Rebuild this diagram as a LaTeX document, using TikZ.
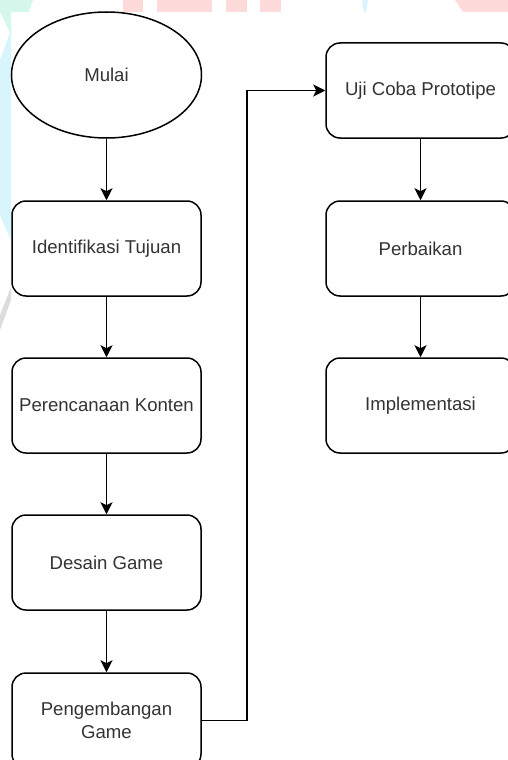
\documentclass[tikz,border=0pt]{standalone}
\usepackage{fontspec}
\setmainfont{Liberation Sans}
\usepackage{tikz}
\usetikzlibrary{shapes.geometric,arrows.meta}
\definecolor{teks}{HTML}{333333}
\definecolor{merahmuda}{HTML}{FFDADA}
\definecolor{hijaumuda}{HTML}{D5F7EC}
\definecolor{birumuda}{HTML}{D8F4FC}
\definecolor{abumuda}{HTML}{DCDCDC}
\tikzset{
	kotak/.style={draw,rounded corners=14pt,line width=1.5pt,minimum width=189pt,minimum height=95pt,inner sep=0pt,text=teks,align=center,font=\fontsize{18.6}{23}\selectfont},
	mulaibox/.style={draw,ellipse,line width=1.5pt,minimum width=190pt,minimum height=126pt,inner sep=0pt,text=teks,font=\fontsize{18.6}{23}\selectfont},
	panah/.style={line width=1.5pt,-{Stealth[length=12pt,width=12pt,inset=3pt]}}
}
\begin{document}
\begin{tikzpicture}[x=1pt,y=-1pt]
	\clip (0,0) rectangle (508,760);
	% potongan latar
	\fill [merahmuda] (123,0) rectangle (143,12);
	\fill [merahmuda] (157,0) rectangle (212,12);
	\fill [merahmuda] (226,0) rectangle (247,12);
	\fill [merahmuda] (260,0) rectangle (281,12);
	\fill [merahmuda] (455,0) -- (508,0) -- (508,12) -- (463,12) -- cycle;
	\fill [birumuda] (362,0) -- (368,0) -- (366,12) -- (364,12) -- cycle;
	\fill [hijaumuda] (0,0) -- (33,0) -- (29,12) -- (11,12) -- (11,35) -- (0,12) -- cycle;
	\fill [birumuda] (11,30) -- (11,240) -- (0,215) -- (0,60) -- cycle;
	\fill [abumuda] (11,287) -- (11,300) -- (0,330) -- (0,315) -- cycle;

	\node [mulaibox] (mulai) at (106.5,75) {Mulai};
	\node [kotak] (tujuan) at (106.5,248.5) {Identifikasi Tujuan};
	\node [kotak] (konten) at (106.5,405.5) {Perencanaan Konten};
	\node [kotak] (desain) at (106.5,562.5) {Desain Game};
	\node [kotak] (kembang) at (106.5,720.5) {Pengembangan\\Game};
	\node [kotak] (uji) at (420.5,90.5) {Uji Coba Prototipe};
	\node [kotak] (perbaikan) at (420.5,248.5) {Perbaikan};
	\node [kotak] (implementasi) at (420.5,405.5) {Implementasi};
	\coordinate (belok) at (247,90.5);

	\draw [panah] (mulai) -- (tujuan);
	\draw [panah] (tujuan) -- (konten);
	\draw [panah] (konten) -- (desain);
	\draw [panah] (desain) -- (kembang);
	\draw [panah] (kembang.east) -| (belok) -- (uji.west);
	\draw [panah] (uji) -- (perbaikan);
	\draw [panah] (perbaikan) -- (implementasi);
\end{tikzpicture}
\end{document}
